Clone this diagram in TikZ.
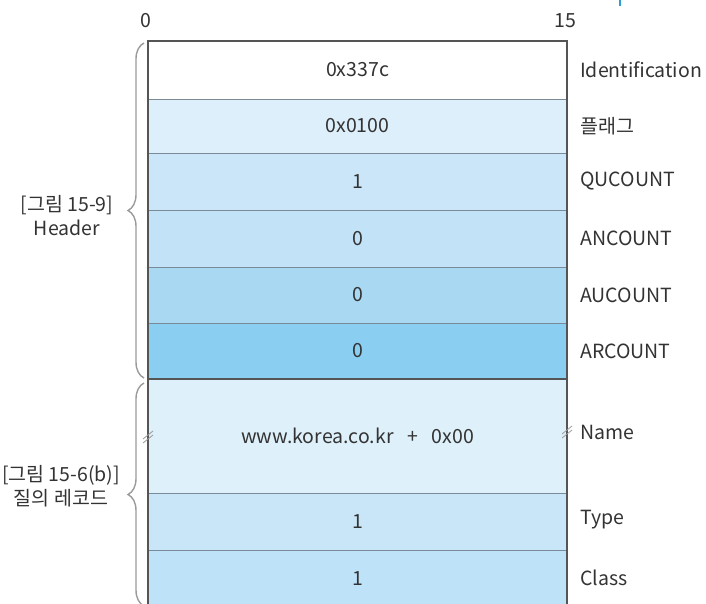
\documentclass[tikz,border=0pt]{standalone}
\usepackage{fontspec}
\setmainfont{Noto Sans CJK KR}
\usetikzlibrary{decorations.pathreplacing}
\definecolor{txt}{HTML}{333333}
\definecolor{frm}{HTML}{555555}
\definecolor{sepc}{HTML}{7A8A96}
\definecolor{brc}{HTML}{9A9A9A}
\definecolor{cB}{HTML}{DDEFFA}
\definecolor{cC}{HTML}{CBE6F8}
\definecolor{cD}{HTML}{C2E2F7}
\definecolor{cE}{HTML}{A9D8F3}
\definecolor{cF}{HTML}{8ACFF2}
\definecolor{cG}{HTML}{DEF0FA}
\definecolor{cH}{HTML}{C8E6F8}
\definecolor{cI}{HTML}{BEE2F8}
\definecolor{mark}{HTML}{2A9FD6}
\newcommand{\fs}{\fontsize{19.5}{24}\selectfont}
\begin{document}
\begin{tikzpicture}[x=1pt,y=-1pt,
  cell/.style={anchor=north west, minimum width=419pt, inner sep=0pt, outer sep=0pt, text=txt, font=\fs},
  fld/.style={anchor=west, text=txt, inner sep=0pt, font=\fs},
  lbl/.style={align=center, text=txt, inner sep=0pt, font=\fs},
  sep/.style={draw=sepc, line width=1pt},
  frame/.style={draw=frm, line width=1.3pt},
  brk/.style={draw=brc, line width=0.8pt},
  curly/.style={draw=brc, line width=1.4pt, decorate, decoration={brace, amplitude=16pt}}]
\useasboundingbox (0,0) rectangle (706,603);
% rows
\node[cell, minimum height=58pt, fill=white] (r1) at (148,41) {0x337c};
\node[cell, minimum height=54pt, fill=cB] (r2) at (148,99) {0x0100};
\node[cell, minimum height=57pt, fill=cC] (r3) at (148,153) {1};
\node[cell, minimum height=57pt, fill=cD] (r4) at (148,210) {0};
\node[cell, minimum height=56pt, fill=cE] (r5) at (148,267) {0};
\node[cell, minimum height=56pt, fill=cF] (r6) at (148,323) {0};
\node[cell, minimum height=114pt, fill=cG] (r7) at (148,379) {www.korea.co.kr\hspace{0.7em}+\hspace{0.7em}0x00};
\node[cell, minimum height=57pt, fill=cH] (r8) at (148,493) {1};
\node[cell, minimum height=58pt, fill=cI] (r9) at (148,550) {1};
% separators
\foreach \r in {r2,r3,r4,r5,r6,r8,r9}{\draw[sep] (\r.north west) -- (\r.north east);}
\draw[draw=frm, line width=2.4pt] (r7.north west) -- (r7.north east);
\draw[frame] (r9.south west) -- (r1.north west) -- (r1.north east) -- (r9.south east);
% field names
\node[fld] (l1) at ([xshift=13pt]r1.east) {Identification};
\node[fld] (l2) at ([xshift=13pt]r2.east) {플래그};
\node[fld] (l3) at ([xshift=13pt]r3.east) {QUCOUNT};
\node[fld] (l4) at ([xshift=13pt]r4.east) {ANCOUNT};
\node[fld] (l5) at ([xshift=13pt]r5.east) {AUCOUNT};
\node[fld] (l6) at ([xshift=13pt]r6.east) {ARCOUNT};
\node[fld] (l7) at ([xshift=13pt,yshift=4pt]r7.east) {Name};
\node[fld] (l8) at ([xshift=13pt,yshift=2pt]r8.east) {Type};
\node[fld] (l9) at ([xshift=13pt,yshift=1pt]r9.east) {Class};
% break marks
\coordinate (bl) at ([yshift=-1pt]r7.west);
\coordinate (br) at ([yshift=4pt]r7.east);
\foreach \c in {bl,br}{
  \draw[brk] ([shift={(-5pt,-2pt)}]\c) -- ([shift={(5pt,6pt)}]\c);
  \draw[brk] ([shift={(-5pt,-6pt)}]\c) -- ([shift={(5pt,2pt)}]\c);
}
% axis numbers
\node[lbl] (n0) at (146,21) {0};
\node[lbl] (n15) at (565,21) {15};
% braces
\coordinate (b1s) at (144,378);
\coordinate (b1e) at (144,43);
\coordinate (b2s) at (144,606);
\coordinate (b2e) at (144,383);
\draw[curly] (b1s) -- (b1e);
\draw[curly] (b2s) -- (b2e);
% group labels
\node[lbl] (g1) at (67,216) {[그림 15-9]\\Header};
\node[lbl] (g2) at (61,486) {[그림 15-6(b)]\\질의 레코드};
% top mark
\coordinate (m1) at (620,0);
\coordinate (m2) at (620,6);
\draw[draw=mark, line width=2pt] (m1) -- (m2);
\end{tikzpicture}
\end{document}
